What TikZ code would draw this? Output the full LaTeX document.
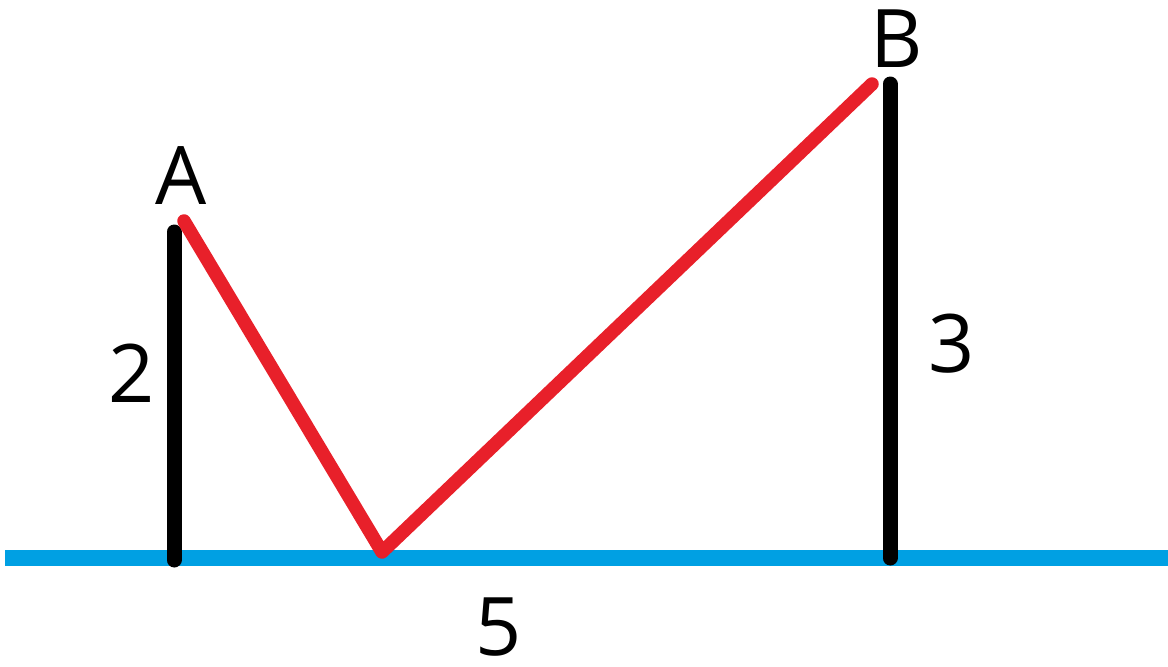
\documentclass[tikz,border=0pt]{standalone}
\usepackage{fontspec}
\setmainfont{Open Sans}
\usetikzlibrary{positioning}
\definecolor{Ground}{HTML}{00A0E3}
\definecolor{Path}{HTML}{E8202A}
\definecolor{Pole}{HTML}{000000}

\begin{document}
\begin{tikzpicture}[
      x=0.02cm,y=-0.02cm,
      ground/.style={line width=0.32cm,color=Ground},
      pole/.style={line width=0.3cm,color=Pole,line cap=round},
      route/.style={line width=0.27cm,color=Path,line cap=round,line join=round},
      lbl/.style={inner sep=0pt,font=\fontsize{46}{46}\selectfont}
    ]
      \useasboundingbox (0,0) rectangle (1168,666);
      \coordinate (groundL) at (5,558);
      \coordinate (groundR) at (1168,558);
      \coordinate (topA) at (174,232);
      \coordinate (footA) at (174,560);
      \coordinate (topB) at (890,84);
      \coordinate (footB) at (890,558);
      \coordinate (endA) at (184,221);
      \coordinate (vertex) at (382,552);
      \coordinate (endB) at (872,84);
      \draw[ground] (groundL) -- (groundR);
      \draw[pole] (topA) -- (footA);
      \draw[pole] (topB) -- (footB);
      \draw[route] (endA) -- (vertex) -- (endB);
      \node[lbl] (labA) at (181,176) {A};
      \node[lbl] (labB) at (897,39) {B};
      \node[lbl] (len2) at (132,373) {2};
      \node[lbl] (len3) at (952,344) {3};
      \node[lbl] (len5) at (499,627) {5};
    \end{tikzpicture}
\end{document}
